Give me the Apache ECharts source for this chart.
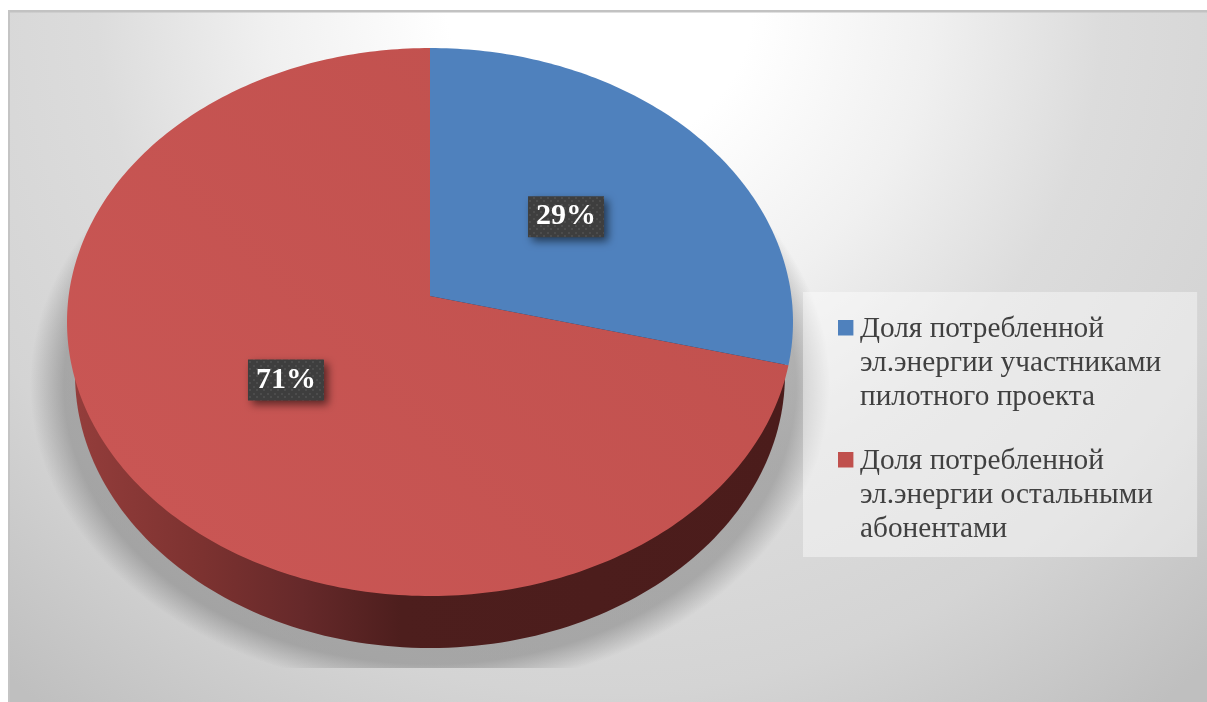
<!DOCTYPE html>
<html>
<head>
<meta charset="utf-8">
<style>html,body{margin:0;padding:0;background:#fff}#chart{width:1207px;height:702px}</style>
<script src="https://cdn.jsdelivr.net/npm/echarts@6/dist/echarts.min.js"></script>
</head>
<body>
<div id="chart"></div>
<script>
const categories = [
  'Доля потребленной\nэл.энергии участниками\nпилотного проекта',
  'Доля потребленной\nэл.энергии остальными\nабонентами'
];
const shares = [29, 71];
const shareLabels = ['29%', '71%'];
const sliceColors = ['#4f81bd', '#c0504d'];

// Perspective projection of the disc: the apex sits above the centre of the visible ellipse.
const APEX_X = 430, APEX_Y = 296, TOP_Y = 48, NEAR_Y = 596, SPAN_X = 363, DEPTH = 52;
const persp = (2 * APEX_Y - TOP_Y - NEAR_Y) / (NEAR_Y * -1 + TOP_Y) ;
const tiltY = TOP_Y * (1 + persp) - APEX_Y;
const scaleX = SPAN_X * Math.sqrt(1 - persp * persp);

function project(angle, f) {
  const u = Math.sin(angle) * f, v = Math.cos(angle) * f;
  const d = 1 + persp * v;
  return [APEX_X + scaleX * u / d, (APEX_Y + tiltY * v) / d];
}

function wedgePoints(from, to) {
  const pts = [[APEX_X, APEX_Y]];
  const steps = Math.max(8, Math.round((to - from) * 60));
  for (let s = 0; s <= steps; s++) pts.push(project(from + (to - from) * s / steps, 1));
  return pts;
}

// Dotted fill for the value label plates
const dots = document.createElement('canvas');
dots.width = dots.height = 7;
(function () {
  const c = dots.getContext('2d');
  c.fillStyle = '#3e3e3e';
  c.fillRect(0, 0, 7, 7);
  c.fillStyle = '#4c4c4c';
  c.fillRect(1, 1, 2, 2);
  c.fillRect(4, 4, 2, 2);
})();

const total = shares.reduce((a, b) => a + b, 0);

function renderSlice(params, api) {
  const i = params.seriesIndex;
  const before = shares.slice(0, i).reduce((a, b) => a + b, 0);
  const from = before / total * Math.PI * 2;
  const to = (before + api.value(0)) / total * Math.PI * 2;
  const mid = (from + to) / 2;
  const labelAt = project(mid, 0.49);
  const children = [];

  if (i === 1) {
    // Cast shadow: a soft elliptical pool cut off by the floor line
    children.push({
      type: 'group',
      clipPath: { type: 'rect', shape: { x: 0, y: 0, width: 1207, height: 668 } },
      silent: true,
      children: [{
        type: 'circle',
        x: APEX_X,
        y: 385,
        scaleX: 400,
        scaleY: 305,
        shape: { cx: 0, cy: 0, r: 1 },
        style: {
          fill: new echarts.graphic.RadialGradient(0.5, 0.5, 0.5, [
            { offset: 0, color: 'rgba(100,100,100,0.42)' },
            { offset: 0.915, color: 'rgba(100,100,100,0.42)' },
            { offset: 0.96, color: 'rgba(100,100,100,0.2)' },
            { offset: 1, color: 'rgba(100,100,100,0)' }
          ])
        },
        silent: true
      }]
    });
    // Side wall of the disc
    children.push({
      type: 'ellipse',
      shape: { cx: APEX_X, cy: 322 + DEPTH, rx: 355, ry: 274 },
      style: {
        fill: new echarts.graphic.LinearGradient(75, 0, 785, 0, [
          { offset: 0, color: '#943d3b' },
          { offset: 0.18, color: '#7c3230' },
          { offset: 0.32, color: '#66292a' },
          { offset: 0.46, color: '#4d1e1d' },
          { offset: 1, color: '#4b1c1b' }
        ], true)
      },
      silent: true
    });
  }

  const topFill = i === 1
    ? new echarts.graphic.LinearGradient(700, 60, 200, 560, [
        { offset: 0, color: '#c0504d' },
        { offset: 1, color: '#c95654' }
      ], true)
    : sliceColors[i];
  children.push({
    type: 'polygon',
    shape: { points: wedgePoints(from, to) },
    style: { fill: topFill }
  });

  // Value plate with a soft drop shadow
  children.push({
    type: 'rect',
    shape: { x: labelAt[0] - 38, y: labelAt[1] - 20.5, width: 76, height: 41 },
    style: {
      fill: { image: dots, repeat: 'repeat' },
      shadowBlur: 9,
      shadowOffsetX: 4,
      shadowOffsetY: 4,
      shadowColor: 'rgba(0,0,0,0.55)'
    },
    z2: 5
  });
  children.push({
    type: 'text',
    x: labelAt[0],
    y: labelAt[1],
    style: {
      text: shareLabels[i],
      fill: '#ffffff',
      font: 'bold 30px "Liberation Serif"',
      align: 'center',
      verticalAlign: 'middle'
    },
    z2: 6
  });
  return { type: 'group', children };
}

// The legend marker fills the top of a tall icon box, so it lines up with the first text line
const marker = 'path://M0 8H15.4V23.5H0Z M0 0L17 0L17 0Z M0 102L0 102L17 102Z';

const chart = echarts.init(document.getElementById('chart'), null, { renderer: 'canvas' });
chart.setOption({
  animation: false,
  color: sliceColors,
  graphic: {
    elements: [
      {
        type: 'rect',
        shape: { x: 8, y: 10, width: 1199, height: 692 },
        style: {
          fill: new echarts.graphic.RadialGradient(600, 0, 900, [
            { offset: 0, color: '#ffffff' },
            { offset: 0.17, color: '#ffffff' },
            { offset: 0.37, color: '#f0f0f0' },
            { offset: 0.56, color: '#dcdcdc' },
            { offset: 0.77, color: '#d4d4d4' },
            { offset: 1, color: '#bfbfbf' }
          ], true)
        },
        silent: true
      },
      {
        type: 'rect',
        shape: { x: 8, y: 10, width: 1199, height: 2.5 },
        style: { fill: '#c2c2c2' },
        silent: true
      },
      {
        type: 'rect',
        shape: { x: 8, y: 10, width: 2, height: 692 },
        style: { fill: '#c4c4c4' },
        silent: true
      }
    ]
  },
  legend: {
    orient: 'vertical',
    left: 803,
    top: 292,
    padding: [20, 36, 11, 35],
    itemGap: 30,
    itemWidth: 17,
    itemHeight: 102,
    icon: marker,
    selectedMode: false,
    backgroundColor: 'rgba(255,255,255,0.42)',
    textStyle: {
      fontFamily: 'Liberation Serif',
      fontSize: 29.3,
      lineHeight: 34,
      color: '#404040'
    },
    data: categories
  },
  series: categories.map((name, i) => ({
    type: 'custom',
    name,
    coordinateSystem: 'none',
    renderItem: renderSlice,
    data: [shares[i]],
    z: 3 - i,
    itemStyle: { color: sliceColors[i] }
  }))
});
</script>
</body>
</html>
